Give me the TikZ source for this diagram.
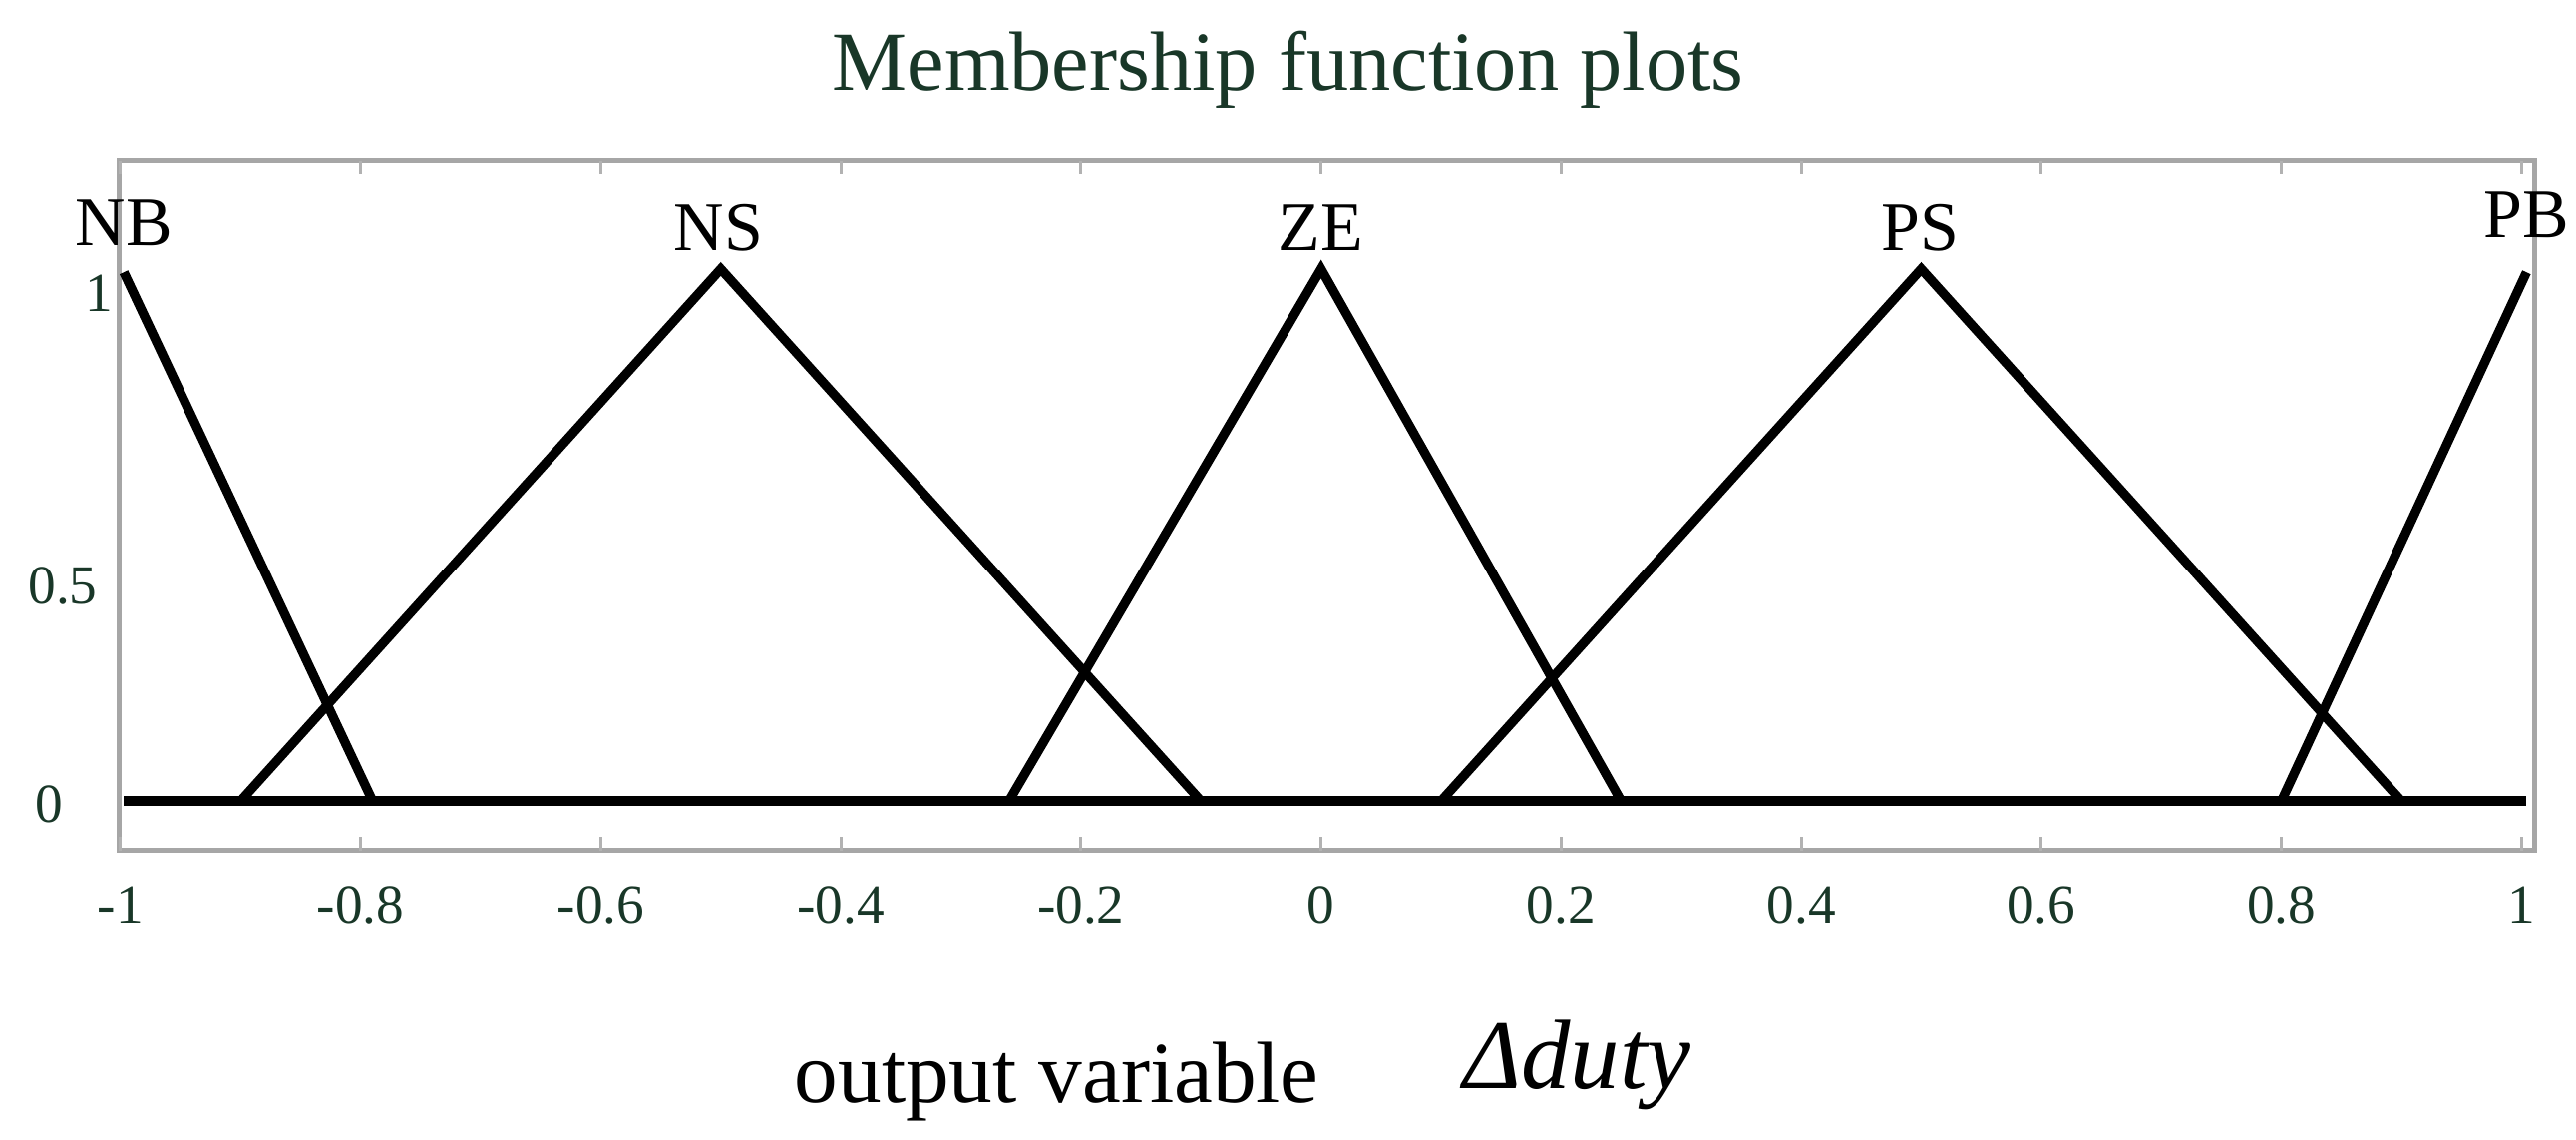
\documentclass[tikz,border=0pt]{standalone}
\usepackage{fontspec}
\setmainfont{Liberation Serif}
\definecolor{tk}{RGB}{25,55,40}
\begin{document}
\begin{tikzpicture}[x=0.02cm,y=-0.02cm,
  mf/.style={line width=3.2pt,line join=miter},
  lab/.style={font=\fontsize{24}{26}\selectfont},
  tick/.style={font=\fontsize{19}{21}\selectfont,text=tk}]
\useasboundingbox (0,0) rectangle (1560,690);
\node (title) at (780,42) {\fontsize{29}{31}\selectfont\color{tk}Membership function plots};
\draw[gray!70,line width=1.6pt] (72,97) rectangle (1535,515);
\foreach \i in {-1,-0.8,...,1.01}{
  \draw[gray!60,line width=1pt] ({800+727*\i},97) -- ++(0,8);
  \draw[gray!60,line width=1pt] ({800+727*\i},515) -- ++(0,-8);
}
\foreach \i/\t in {-1/-1,-0.8/-0.8,-0.6/-0.6,-0.4/-0.4,-0.2/-0.2,0/0,0.2/0.2,0.4/0.4,0.6/0.6,0.8/0.8,1/1}
  \node[tick] (t\t) at ({800+727*\i},548) {\t};
\node[tick] (y1) at (60,178) {1};
\node[tick] (y05) at (38,355) {0.5};
\node[tick] (y0) at (30,487) {0};
\draw[mf] (75,485) -- (1530,485);
\coordinate (nb1) at (75,165); \coordinate (nb0) at ({800-0.79*727},485);
\draw[mf] (nb1) -- (nb0);
\coordinate (ns0) at ({800-0.9*727},485); \coordinate (ns1) at ({800-0.5*727},163); \coordinate (ns2) at ({800-0.1*727},485);
\draw[mf] (ns0) -- (ns1) -- (ns2);
\coordinate (ze0) at ({800-0.26*727},485); \coordinate (ze1) at (800,163); \coordinate (ze2) at ({800+0.25*727},485);
\draw[mf] (ze0) -- (ze1) -- (ze2);
\coordinate (ps0) at ({800+0.1*727},485); \coordinate (ps1) at ({800+0.5*727},163); \coordinate (ps2) at ({800+0.9*727},485);
\draw[mf] (ps0) -- (ps1) -- (ps2);
\coordinate (pb0) at ({800+0.8*727},485); \coordinate (pb1) at (1530,165);
\draw[mf] (pb0) -- (pb1);
\node[lab] (NB) at (75,135) {NB};
\node[lab] (NS) at (435,138) {NS};
\node[lab] (ZE) at (800,138) {ZE};
\node[lab] (PS) at (1163,138) {PS};
\node[lab] (PB) at (1530,130) {PB};
\node (xl) at (640,655) {\fontsize{30}{32}\selectfont output variable};
\node (xv) at (955,645) {\fontsize{34}{36}\selectfont\itshape Δduty};
\end{tikzpicture}
\end{document}
